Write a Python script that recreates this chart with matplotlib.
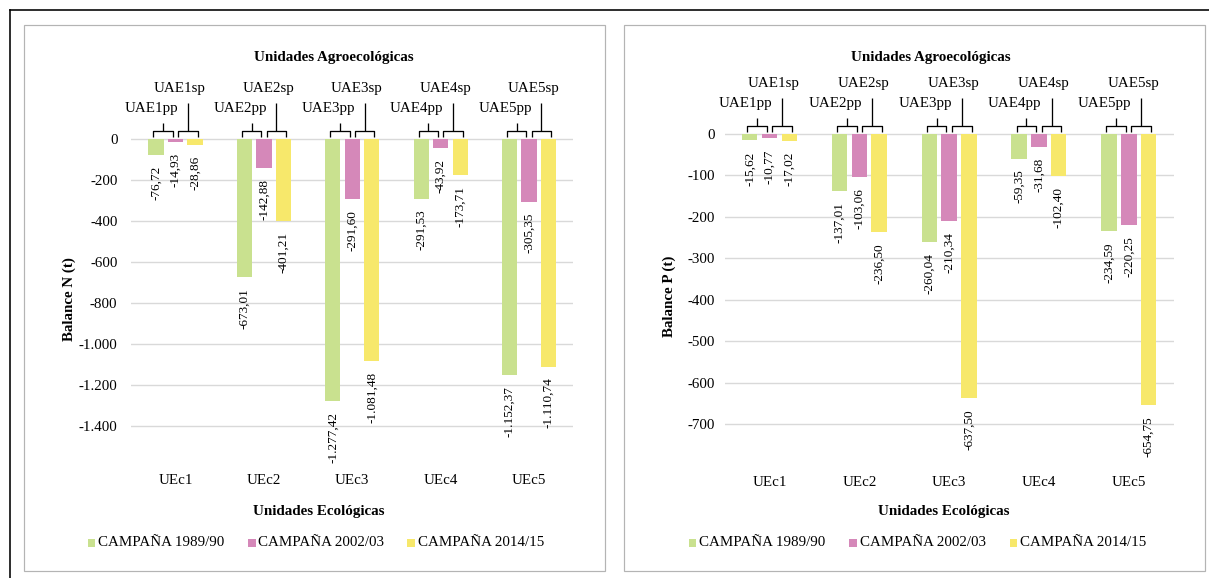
import numpy as np
import matplotlib
matplotlib.use("Agg")
import matplotlib.pyplot as plt
from matplotlib.patches import Rectangle
from matplotlib.lines import Line2D
from matplotlib.transforms import blended_transform_factory

plt.rcParams['font.family'] = ['Liberation Serif', 'DejaVu Serif']

# ---- data -------------------------------------------------------------
categories = ["UEc1", "UEc2", "UEc3", "UEc4", "UEc5"]
campaigns = ["CAMPAÑA 1989/90", "CAMPAÑA 2002/03", "CAMPAÑA 2014/15"]
uae_pp = ["UAE1pp", "UAE2pp", "UAE3pp", "UAE4pp", "UAE5pp"]
uae_sp = ["UAE1sp", "UAE2sp", "UAE3sp", "UAE4sp", "UAE5sp"]

n_1989 = [-76.72, -673.01, -1277.42, -291.53, -1152.37]
n_2002 = [-14.93, -142.88, -291.60, -43.92, -305.35]
n_2014 = [-28.86, -401.21, -1081.48, -173.71, -1110.74]

p_1989 = [-15.62, -137.01, -260.04, -59.35, -234.59]
p_2002 = [-10.77, -103.06, -210.34, -31.68, -220.25]
p_2014 = [-17.02, -236.50, -637.50, -102.40, -654.75]

n_ticks = [0, -200, -400, -600, -800, -1000, -1200, -1400]
p_ticks = [0, -100, -200, -300, -400, -500, -600, -700]

colors = ["#c9e18f", "#d588b9", "#f7e86b"]

# ---- figure -----------------------------------------------------------
W, H, DPI = 1209, 578, 100
fig = plt.figure(figsize=(W / DPI, H / DPI), dpi=DPI)
fig.patch.set_facecolor("white")

PT = 72.0 / DPI          # points per pixel
FS = 10.8                # main text size
FS_LBL = 9.5             # data label size


def es(v, dec=2):
    s = f"{v:,.{dec}f}"
    return s.replace(",", "X").replace(".", ",").replace("X", ".")


def fy(py):
    return 1 - py / H


def fx(px):
    return px / W


# page border (top and left edges)
fig.add_artist(Line2D([fx(10), fx(10)], [fy(10), fy(H + 5)], color="black",
                      lw=1.6 * PT, transform=fig.transFigure))
fig.add_artist(Line2D([fx(10), fx(W + 5)], [fy(10), fy(10)], color="black",
                      lw=1.6 * PT, transform=fig.transFigure))


def draw_panel(series, ticks, ylabel, frame, plot_x, zero_py, bottom_py,
               tick_pad, title_xy, xlabel_xy, cat_py, legend_px):
    # chart frame
    fx0, fy0, fx1, fy1 = frame
    fig.add_artist(Rectangle((fx(fx0), fy(fy1)), (fx1 - fx0) / W, (fy1 - fy0) / H,
                             transform=fig.transFigure, fill=False,
                             edgecolor="#b4b4b4", lw=1.2 * PT))

    x0, x1 = plot_x
    ymin = min(ticks)
    px_per_unit = (bottom_py - zero_py) / (0 - ymin)
    u = 1.0 / px_per_unit   # data units per pixel
    extra = 3               # a few pixels below the last gridline
    ax = fig.add_axes([fx(x0), fy(bottom_py + extra), (x1 - x0) / W,
                       (bottom_py + extra - zero_py + 1) / H])
    ax.set_xlim(-0.5, len(categories) - 0.5)
    ax.set_ylim(ymin - extra * u, 1 * u)
    for s in ax.spines.values():
        s.set_visible(False)
    ax.set_yticks(ticks)
    ax.set_yticklabels([es(t, 0) for t in ticks], fontsize=FS)
    ax.tick_params(axis="y", length=0, pad=tick_pad)
    ax.set_xticks([])
    ax.grid(axis="y", color="#d9d9d9", lw=1.4 * PT)
    ax.set_axisbelow(True)

    x = np.arange(len(categories))
    slot, width = 0.22, 0.172
    for k, vals in enumerate(series):
        pos = x + (k - 1) * slot
        ax.bar(pos, vals, width=width, color=colors[k], zorder=2)
        for xi, v in zip(pos, vals):
            ax.annotate(es(v), xy=(xi, v), xytext=(0, -11 * PT),
                        textcoords="offset points", rotation=90,
                        ha="center", va="top", fontsize=FS_LBL,
                        annotation_clip=False)

    # agroecological unit brackets above each group
    y_h = 7.7 * u
    y_leg = 2.5 * u
    y_pp = 16.5 * u
    y_sp = 36.5 * u
    kw = dict(color="black", lw=1.3 * PT, clip_on=False, solid_capstyle="butt")
    for i in range(len(categories)):
        for (a, b), top, lab, dx in (((i - slot - 0.03, i - 0.03), y_pp, uae_pp[i], -0.13),
                                     ((i + 0.03, i + slot + 0.03), y_sp, uae_sp[i], -0.09)):
            c = (a + b) / 2
            ax.plot([a, a, b, b], [y_leg, y_h, y_h, y_leg], **kw)
            ax.plot([c, c], [y_h, top], **kw)
            ax.text(c + dx, top + 14.5 * u, lab, ha="center", va="center",
                    fontsize=FS, clip_on=False)

    # category labels
    tr = blended_transform_factory(ax.transData, fig.transFigure)
    for i, c in enumerate(categories):
        ax.text(i, fy(cat_py), c, transform=tr, ha="center", va="center", fontsize=FS)

    fig.text(fx(title_xy[0]), fy(title_xy[1]), "Unidades Agroecológicas",
             ha="center", va="center", fontsize=FS, fontweight="bold")
    fig.text(fx(xlabel_xy[0]), fy(xlabel_xy[1]), "Unidades Ecológicas",
             ha="center", va="center", fontsize=FS, fontweight="bold")
    fig.text(fx(frame[0] + 45), fy((zero_py + bottom_py) / 2 + 17), ylabel,
             rotation=90, ha="center", va="center", fontsize=FS, fontweight="bold")

    # legend
    ly = 543
    for k, (sx, name) in enumerate(zip(legend_px, campaigns)):
        fig.add_artist(Rectangle((fx(sx), fy(ly + 3.7)), 7.5 / W, 7.5 / H,
                                 transform=fig.transFigure, color=colors[k], lw=0))
        fig.text(fx(sx + 10.5), fy(ly), name, ha="left", va="center", fontsize=FS)
    return ax


draw_panel([n_1989, n_2002, n_2014], n_ticks, "Balance N (t)",
           frame=(24, 25, 605, 571), plot_x=(131.3, 573.3),
           zero_py=139, bottom_py=426, tick_pad=10,
           title_xy=(334, 58), xlabel_xy=(319, 511), cat_py=481,
           legend_px=(87.5, 248, 407))

draw_panel([p_1989, p_2002, p_2014], p_ticks, "Balance P (t)",
           frame=(624, 25, 1205, 571), plot_x=(724.6, 1173.7),
           zero_py=134, bottom_py=424, tick_pad=7,
           title_xy=(931, 57), xlabel_xy=(943.5, 511), cat_py=482,
           legend_px=(688.5, 849, 1009.5))

fig.savefig("out.png", dpi=DPI, facecolor="white")
